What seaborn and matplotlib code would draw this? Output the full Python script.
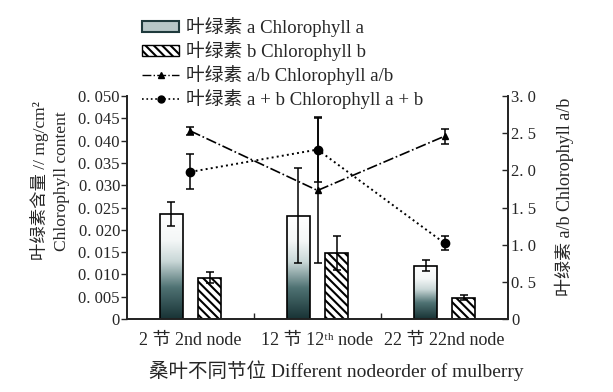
import numpy as np
import pandas as pd
import matplotlib
matplotlib.use("Agg")
import matplotlib.pyplot as plt
import seaborn as sns
from matplotlib.colors import LinearSegmentedColormap
from matplotlib.patches import Patch
from matplotlib.lines import Line2D

# data
nodes = ["2 节 2nd node", "12 节 12ᵗʰ node", "22 节 22nd node"]
chl_a = [0.0235, 0.0232, 0.0120]
chl_a_err = [0.0027, 0.0107, 0.0012]
chl_b = [0.0093, 0.0148, 0.0048]
chl_b_err = [0.0012, 0.0038, 0.0005]
chl_ab_sum = [0.0330, 0.0380, 0.0170]
chl_ab_sum_err = [0.0039, 0.0072, 0.0016]
chl_ab_ratio = [2.53, 1.73, 2.46]
chl_ab_ratio_err = [0.05, 0.98, 0.10]

left_ticks = [0, 0.005, 0.010, 0.015, 0.020, 0.025, 0.030, 0.035, 0.040, 0.045, 0.050]
left_ticklabels = ["0", "0. 005", "0. 010", "0. 015", "0. 020", "0. 025",
                   "0. 030", "0. 035", "0. 040", "0. 045", "0. 050"]
right_ticks = [0, 0.5, 1.0, 1.5, 2.0, 2.5, 3.0]
right_ticklabels = ["0", "0. 5", "1. 0", "1. 5", "2. 0", "2. 5", "3. 0"]

lab_a = "叶绿素 a Chlorophyll a"
lab_b = "叶绿素 b Chlorophyll b"
lab_ratio = "叶绿素 a/b Chlorophyll a/b"
lab_sum = "叶绿素 a + b Chlorophyll a + b"

sns.set_theme(style="ticks")
plt.rcParams["font.family"] = ["Liberation Serif", "Noto Sans CJK SC", "DejaVu Serif"]
plt.rcParams["hatch.linewidth"] = 1.5
plt.rcParams["hatch.color"] = "black"

df = pd.DataFrame({
    "node": nodes * 2,
    "value": chl_a + chl_b,
    "pigment": ["a"] * len(nodes) + ["b"] * len(nodes),
})

fig = plt.figure(figsize=(6.13, 3.92), dpi=100)
ax = fig.add_axes([0.207, 0.186, 0.622, 0.569])

sns.barplot(data=df, x="node", y="value", hue="pigment", ax=ax,
            width=0.6, gap=0.4, errorbar=None, legend=False,
            palette=["white", "white"], edgecolor="black", linewidth=1.2)

# gradient fill for chlorophyll a, hatch for chlorophyll b
grad_cmap = LinearSegmentedColormap.from_list(
    "teal", [(0.0, "#183335"), (0.3, "#4f7273"), (0.55, "#c9d7d7"), (0.75, "#f4f7f7"), (1.0, "white")])
grad = np.linspace(0, 1, 256).reshape(-1, 1)
for p in ax.containers[0]:
    p.set_facecolor("none")
    x0, w, h = p.get_x(), p.get_width(), p.get_height()
    im = ax.imshow(grad, extent=[x0, x0 + w, 0, h], origin="lower", aspect="auto",
                   cmap=grad_cmap, zorder=p.get_zorder() - 0.1)
    im.set_clip_path(p)
for p in ax.containers[1]:
    p.set_hatch("\\\\\\\\")

for cont, err in [(ax.containers[0], chl_a_err), (ax.containers[1], chl_b_err)]:
    xs = [p.get_x() + p.get_width() / 2 for p in cont]
    ys = [p.get_height() for p in cont]
    ax.errorbar(xs, ys, yerr=err, fmt="none", ecolor="black", elinewidth=1.1,
                capsize=3, capthick=1.1, zorder=4)

pos = np.arange(len(nodes))
ax.errorbar(pos, chl_ab_sum, yerr=chl_ab_sum_err, fmt="o", ls=":", color="black",
            ms=6, lw=1.4, elinewidth=1.1, capsize=3, capthick=1.1, zorder=5)

ax.set_xlim(-0.5, len(nodes) - 0.5)
ax.set_ylim(0, 0.05)
ax.set_yticks(left_ticks)
ax.set_yticklabels(left_ticklabels)
ax.tick_params(axis="y", direction="out", length=4, width=1, pad=1, labelsize=12)
ax.tick_params(axis="x", length=0, pad=9, labelsize=13)
ax.set_xticks([0.5, 1.5], minor=True)
ax.tick_params(axis="x", which="minor", direction="in", length=4, width=1)
ax.set_xlabel("桑叶不同节位 Different nodeorder of mulberry", fontsize=14)
ax.xaxis.set_label_coords(0.549, -0.185)
ax.set_ylabel("叶绿素含量 // mg/cm²\nChlorophyll content", fontsize=12.5, linespacing=1.4)
ax.yaxis.set_label_coords(-0.15, 0.62)
ax.spines["top"].set_visible(False)
for s in ["left", "bottom", "right"]:
    ax.spines[s].set_linewidth(1.2)
    ax.spines[s].set_color("black")

ax2 = ax.twinx()
ax2.errorbar(pos, chl_ab_ratio, yerr=chl_ab_ratio_err, fmt="^", ls="-.", color="black",
             ms=5, lw=1.2, elinewidth=1.1, capsize=3, capthick=1.1, zorder=5)
ax2.set_ylim(0, 3.0)
ax2.set_yticks(right_ticks)
ax2.set_yticklabels(right_ticklabels)
ax2.tick_params(axis="y", direction="in", length=4, width=1, pad=2, labelsize=12)
ax2.spines["top"].set_visible(False)
ax2.spines["right"].set_linewidth(1.2)
ax2.set_ylabel("叶绿素 a/b Chlorophyll a/b", fontsize=13, rotation=90)
ax2.yaxis.set_label_coords(1.123, 0.55)

handles = [
    Patch(facecolor="#b7c7c7", edgecolor="#1f3a3c", linewidth=1.5),
    Patch(facecolor="white", edgecolor="black", hatch="\\\\\\\\", linewidth=1),
    Line2D([], [], color="black", ls="-.", lw=1, marker="^", ms=4),
    Line2D([], [], color="black", ls=":", lw=1.2, marker="o", ms=5),
]
fig.legend(handles, [lab_a, lab_b, lab_ratio, lab_sum], loc="upper left",
           bbox_to_anchor=(0.2316, 0.957), frameon=False, fontsize=13.5,
           handlelength=2.0, handleheight=0.55, handletextpad=0.37, labelspacing=0.22,
           borderaxespad=0, borderpad=0)

fig.savefig("out.png", dpi=100)
